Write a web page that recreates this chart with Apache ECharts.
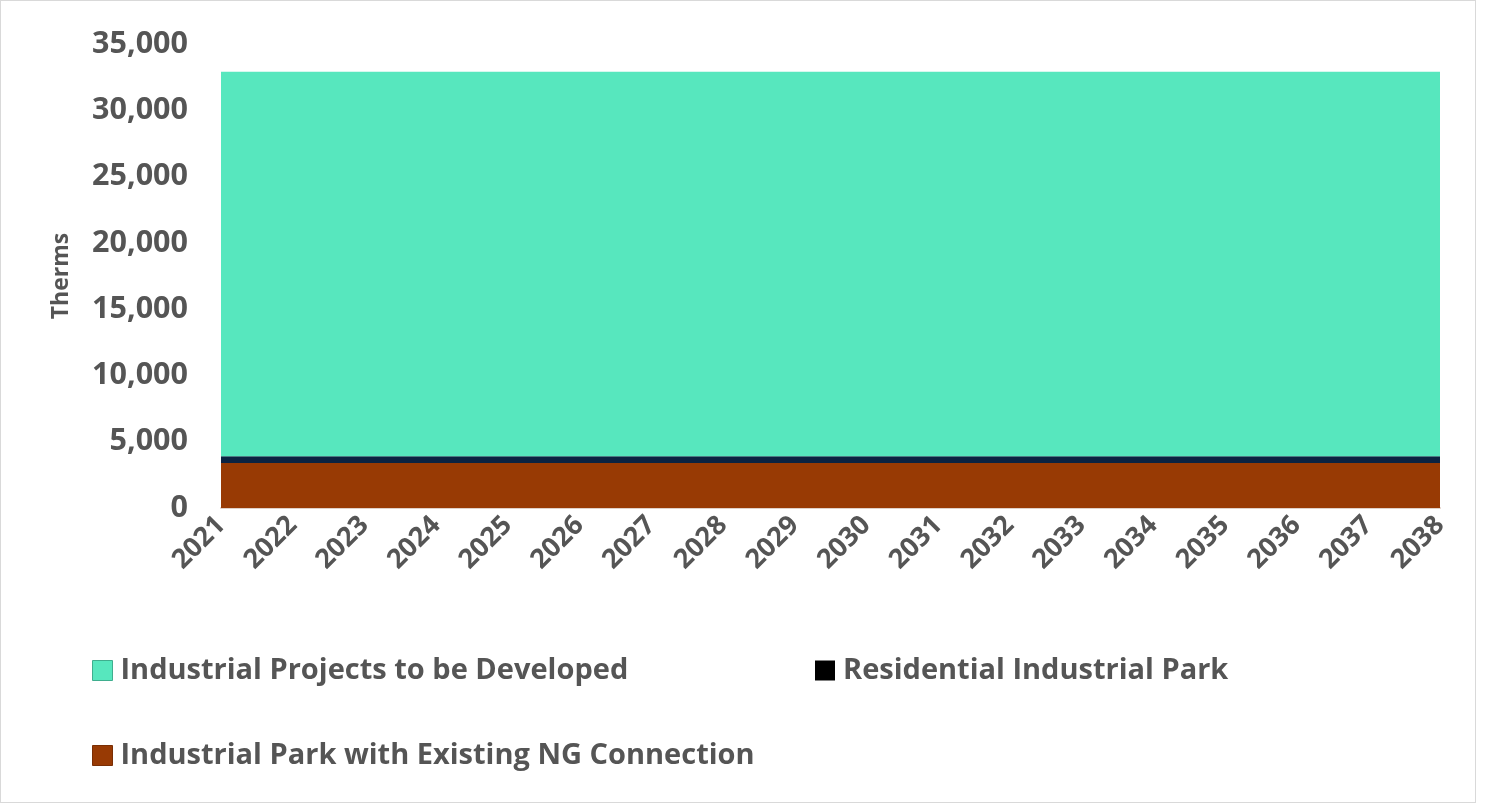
<!DOCTYPE html>
<html>
<head>
<meta charset="utf-8">
<script src="https://cdn.jsdelivr.net/npm/echarts@6/dist/echarts.min.js"></script>
<style>
  html, body { margin: 0; padding: 0; background: #fff; }
  #frame { position: absolute; left: 0; top: 0; width: 1476px; height: 803px; border: 1px solid #d9d9d9; box-sizing: border-box; }
  #chart { position: absolute; left: 0; top: 0; width: 1486px; height: 807px; }
</style>
</head>
<body>
<div id="frame"></div>
<div id="chart"></div>
<script>
// Years on the category axis
const years = ['2021','2022','2023','2024','2025','2026','2027','2028','2029','2030',
               '2031','2032','2033','2034','2035','2036','2037','2038'];

// Annual gas demand by source, therms (stacked bottom to top)
const existingNG   = [3400,3400,3400,3400,3400,3400,3400,3400,3400,3400,3400,3400,3400,3400,3400,3400,3400,3400];
const residential  = [500,500,500,500,500,500,500,500,500,500,500,500,500,500,500,500,500,500];
const toBeDeveloped = [29000,29000,29000,29000,29000,29000,29000,29000,29000,29000,29000,29000,29000,29000,29000,29000,29000,29000];

// Y-axis ticks
const yTicks = { min: 0, max: 35000, interval: 5000 };

const names = {
  dev: 'Industrial Projects to be Developed',
  res: 'Residential Industrial Park',
  ng:  'Industrial Park with Existing NG Connection'
};
const colors = { dev: '#57E7BE', res: '#0B2342', ng: '#983A04' };

const fontFam = '"Open Sans", "Noto Sans", sans-serif';
const legendText = { color: '#555555', fontSize: 29, fontWeight: 'bold', fontFamily: fontFam, padding: [0, 0, 0, 3] };

function areaSeries(name, data, color) {
  return {
    name: name,
    type: 'line',
    stack: 'total',
    data: data,
    symbol: 'none',
    lineStyle: { width: 0 },
    areaStyle: { color: color, opacity: 1 },
    itemStyle: { color: color },
    emphasis: { disabled: true }
  };
}

function legendBox(left, top, item) {
  return { left: left, top: top, padding: 0, icon: 'rect', itemWidth: 20, itemHeight: 20,
           textStyle: legendText, data: [item] };
}

const chart = echarts.init(document.getElementById('chart'));
chart.setOption({
  animation: false,
  backgroundColor: 'transparent',
  grid: { left: 221, right: 46, top: 44, bottom: 299 },
  legend: [
    legendBox(92, 656, { name: names.dev, itemStyle: { color: colors.dev, borderColor: '#3fae8e', borderWidth: 1 } }),
    legendBox(815, 656, { name: names.res, itemStyle: { color: '#000000' } }),
    legendBox(92, 741, { name: names.ng, itemStyle: { color: colors.ng, borderColor: '#7a2e04', borderWidth: 1 } })
  ],
  xAxis: {
    type: 'category',
    data: years,
    boundaryGap: false,
    axisLine: { lineStyle: { color: '#e0d0c8', width: 2 } },
    axisTick: { show: false },
    axisLabel: {
      rotate: 45,
      interval: 0,
      margin: 13,
      color: '#555555',
      fontSize: 27,
      fontWeight: 'bold',
      fontFamily: fontFam
    }
  },
  yAxis: {
    type: 'value',
    min: yTicks.min,
    max: yTicks.max,
    interval: yTicks.interval,
    name: 'Therms',
    nameLocation: 'middle',
    nameGap: 148,
    nameRotate: 90,
    nameTextStyle: { color: '#555555', fontSize: 23, fontWeight: 'bold', fontFamily: fontFam },
    axisLine: { show: false },
    axisTick: { show: false },
    splitLine: { show: false },
    axisLabel: {
      margin: 33,
      color: '#555555',
      fontSize: 30.5,
      fontWeight: 'bold',
      fontFamily: fontFam,
      formatter: v => v.toLocaleString('en-US')
    }
  },
  series: [
    areaSeries(names.ng, existingNG, colors.ng),
    areaSeries(names.res, residential, colors.res),
    areaSeries(names.dev, toBeDeveloped, colors.dev)
  ]
});
</script>
</body>
</html>
